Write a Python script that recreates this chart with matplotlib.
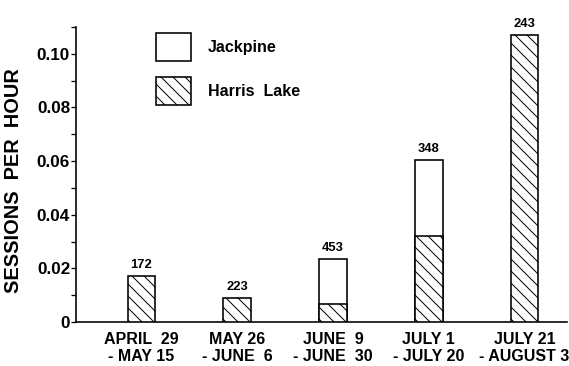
#!/usr/bin/env python3
"""Sessions per hour by period, Jackpine vs Harris Lake (overlaid bars)."""

import matplotlib

matplotlib.use("Agg")
import matplotlib.pyplot as plt
from matplotlib.patches import Patch
import numpy as np

# --- data ---
PERIODS = ["APRIL  29\n- MAY 15", "MAY 26\n- JUNE  6", "JUNE  9\n- JUNE  30",
           "JULY 1\n- JULY 20", "JULY 21\n- AUGUST 3"]
JACKPINE = [np.nan, np.nan, 0.0235, 0.0604, np.nan]
HARRIS = [0.0172, 0.0091, 0.0067, 0.0322, 0.1071]
N_SESSIONS = [172, 223, 453, 348, 243]
YTICKS = [0, 0.02, 0.04, 0.06, 0.08, 0.10]
YTICK_LABELS = ["0", "0.02", "0.04", "0.06", "0.08", "0.10"]

FONT = ["Liberation Sans", "DejaVu Sans"]


def main():
    plt.rcParams.update({"font.family": FONT, "hatch.linewidth": 1.0})
    W, H = 569, 366
    fig = plt.figure(figsize=(W / 72, H / 72), dpi=72)
    ax = fig.add_axes([76 / W, 44 / H, 491 / W, 295 / H])

    x = np.arange(len(PERIODS))
    width = 0.29
    ax.bar(x, JACKPINE, width, color="white", edgecolor="black", linewidth=1.6,
           zorder=2)
    ax.bar(x, HARRIS, width, color="white", edgecolor="black", linewidth=1.6,
           hatch="\\\\", zorder=3)

    tops = np.nanmax(np.vstack([JACKPINE, HARRIS]), axis=0)
    for xi, top, n in zip(x, tops, N_SESSIONS):
        ax.annotate(str(n), (xi, top), xytext=(0, 5), textcoords="offset points",
                    ha="center", va="bottom", fontsize=13, fontweight="bold")

    ax.set_xlim(-0.684, 4.444)
    ax.set_ylim(0, 0.11)
    ax.set_xticks(x)
    ax.set_xticklabels(PERIODS, fontsize=16, fontweight="bold", linespacing=1.2)
    ax.tick_params(axis="x", length=0, pad=10)
    ax.set_yticks(YTICKS)
    ax.set_yticklabels(YTICK_LABELS, fontsize=17, fontweight="bold")
    ax.set_yticks(np.arange(0.01, 0.111, 0.02), minor=True)
    ax.tick_params(axis="y", which="both", length=5, width=1.3, pad=1)

    for spine in ("top", "right"):
        ax.spines[spine].set_visible(False)
    for spine in ("left", "bottom"):
        ax.spines[spine].set_linewidth(1.6)

    ax.text(-0.128, 0.48, "SESSIONS  PER  HOUR", transform=ax.transAxes,
            rotation=90, ha="center", va="center", fontsize=20,
            fontweight="bold")

    handles = [
        Patch(facecolor="white", edgecolor="black", linewidth=1.6, label="Jackpine"),
        Patch(facecolor="white", edgecolor="black", linewidth=1.6, hatch="\\\\",
              label="Harris  Lake"),
    ]
    ax.legend(handles=handles, loc="upper left", bbox_to_anchor=(0.162, 0.98),
              frameon=False, handlelength=2.2, handleheight=2.3,
              handletextpad=1.05, labelspacing=1.0, borderpad=0,
              borderaxespad=0, prop={"weight": "bold", "size": 16})

    fig.savefig("out.png", dpi=72)


if __name__ == "__main__":
    main()
